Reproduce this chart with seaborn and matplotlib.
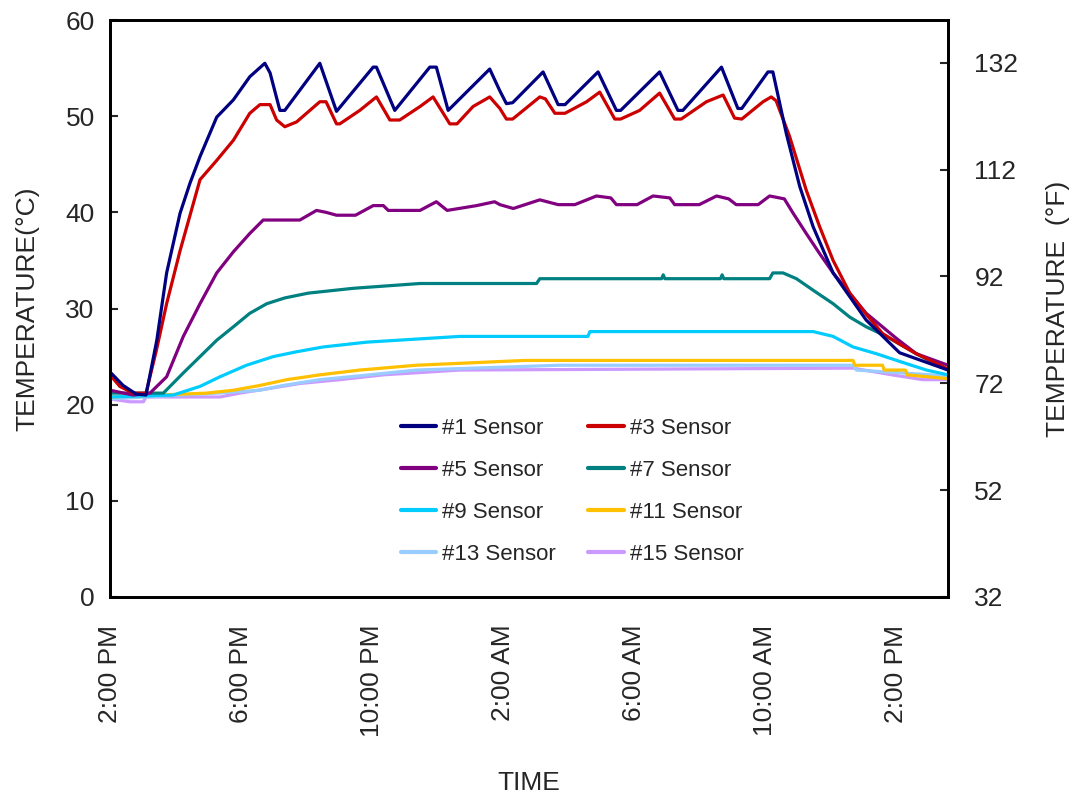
import matplotlib
matplotlib.use("Agg")
import matplotlib.pyplot as plt
import seaborn as sns
import pandas as pd
from matplotlib.lines import Line2D

# ---- data (hours after 2:00 PM, temperature in °C) ----
s1_t = [0.0, 0.4, 0.8, 1.1, 1.43, 1.73, 2.14, 2.44, 2.75, 3.26, 3.77, 4.27, 4.73, 4.89, 5.19, 5.34,
        6.41, 6.92, 8.04, 8.14, 8.70, 9.77, 9.97, 10.33, 11.6, 11.9, 12.11, 12.3, 13.23, 13.69, 13.9,
        14.91, 15.47, 15.6, 16.79, 17.35, 17.5, 18.68, 19.18, 19.3, 20.1, 20.25, 20.66, 21.07, 21.48,
        22.09, 23.1, 24.12, 25.6]
s1_v = [23.4, 22.0, 21.1, 21.0, 26.7, 33.7, 39.9, 43.0, 45.8, 49.9, 51.7, 54.1, 55.5, 54.5, 50.6, 50.6,
        55.5, 50.5, 55.1, 55.1, 50.6, 55.1, 55.1, 50.6, 54.9, 52.7, 51.3, 51.4, 54.6, 51.2, 51.2,
        54.6, 50.6, 50.6, 54.6, 50.6, 50.6, 55.1, 50.8, 50.8, 54.6, 54.6, 48.2, 42.7, 38.5,
        33.7, 28.8, 25.4, 23.6]

s3_t = [0.0, 0.3, 0.7, 1.1, 1.42, 1.73, 2.14, 2.75, 3.26, 3.77, 4.27, 4.58, 4.89, 5.09, 5.34, 5.70,
        6.41, 6.6, 6.92, 7.02, 7.63, 8.14, 8.55, 8.85, 9.47, 9.87, 10.38, 10.6, 11.09, 11.6, 11.91,
        12.11, 12.3, 13.13, 13.3, 13.59, 13.9, 14.56, 14.96, 15.42, 15.6, 16.18, 16.79, 17.25, 17.45,
        18.22, 18.73, 19.08, 19.3, 19.95, 20.2, 20.35, 20.76, 21.27, 21.68, 22.09, 22.6, 23.1, 23.6,
        24.12, 24.63, 25.6]
s3_v = [23.1, 21.9, 21.2, 21.2, 25.7, 30.5, 36.0, 43.4, 45.4, 47.5, 50.3, 51.2, 51.2, 49.6, 48.9, 49.4,
        51.5, 51.5, 49.2, 49.2, 50.6, 52.0, 49.6, 49.6, 51.0, 52.0, 49.2, 49.2, 51.0, 52.0, 50.8,
        49.7, 49.7, 52.0, 51.8, 50.3, 50.3, 51.5, 52.5, 49.7, 49.7, 50.6, 52.4, 49.7, 49.7,
        51.5, 52.2, 49.8, 49.7, 51.5, 52.0, 51.6, 47.9, 42.3, 38.5, 35.0, 31.6, 29.4, 27.4,
        26.3, 25.3, 23.7]

s5_t = [0.0, 0.71, 1.22, 1.73, 2.24, 2.75, 3.26, 3.77, 4.27, 4.68, 5.8, 6.31, 6.6, 6.92, 7.5, 8.04,
        8.35, 8.5, 9.47, 9.97, 10.3, 11.2, 11.75, 11.91, 12.32, 13.13, 13.69, 14.2, 14.86, 15.3,
        15.47, 16.1, 16.59, 17.1, 17.25, 18.0, 18.53, 18.9, 19.13, 19.8, 20.15, 20.6, 20.87,
        21.27, 21.68, 22.09, 23.1, 24.02, 24.63, 25.6]
s5_v = [21.5, 21.0, 21.2, 22.9, 27.1, 30.5, 33.7, 35.9, 37.8, 39.2, 39.2, 40.2, 40.0, 39.7, 39.7, 40.7,
        40.7, 40.2, 40.2, 41.1, 40.2, 40.7, 41.1, 40.8, 40.4, 41.3, 40.8, 40.8, 41.7, 41.5,
        40.8, 40.8, 41.7, 41.5, 40.8, 40.8, 41.7, 41.4, 40.8, 40.8, 41.7, 41.4, 39.9,
        37.8, 35.7, 33.7, 29.5, 26.9, 25.3, 24.1]

s7_t = [0.0, 1.63, 2.24, 2.75, 3.26, 3.77, 4.27, 4.79, 5.34, 6.06, 7.43, 9.47, 13.03, 13.13, 16.85,
        16.9, 16.95, 18.65, 18.7, 18.75, 20.15, 20.25, 20.56, 20.97, 21.48, 22.09, 22.6, 23.1, 23.72,
        24.63, 25.6]
s7_v = [21.2, 21.2, 23.3, 25.0, 26.7, 28.1, 29.5, 30.5, 31.1, 31.6, 32.1, 32.6, 32.6, 33.1, 33.1,
        33.5, 33.1, 33.1, 33.5, 33.1, 33.1, 33.7, 33.7, 33.1, 31.9, 30.5, 29.1, 28.1, 27.1,
        25.3, 23.6]

s9_t = [0.0, 1.93, 2.75, 3.36, 4.17, 4.99, 5.70, 6.51, 7.84, 10.69, 14.6, 14.66, 21.48, 22.09,
        22.7, 23.41, 24.12, 24.94, 25.6]
s9_v = [20.8, 21.0, 21.9, 22.9, 24.1, 25.0, 25.5, 26.0, 26.5, 27.1, 27.1, 27.6, 27.6, 27.1,
        26.0, 25.3, 24.5, 23.6, 23.1]

s11_t = [0.0, 2.95, 3.77, 4.58, 5.40, 6.41, 7.63, 9.36, 12.67, 22.7, 22.75, 23.6, 23.65, 24.3,
         24.35, 25.6]
s11_v = [20.8, 21.2, 21.5, 22.0, 22.6, 23.1, 23.6, 24.1, 24.6, 24.6, 24.1, 24.1, 23.6, 23.6,
         23.1, 22.7]

s13_t = [0.0, 3.26, 4.58, 5.29, 6.41, 7.63, 9.36, 13.74, 22.7, 22.8, 25.1, 25.6]
s13_v = [20.6, 21.2, 21.5, 22.0, 22.6, 23.0, 23.6, 24.1, 24.1, 23.6, 23.1, 22.9]

s15_t = [0.0, 0.61, 1.02, 1.1, 3.36, 3.97, 5.80, 7.02, 8.35, 10.69, 22.7, 23.89, 24.83, 25.6]
s15_v = [20.6, 20.3, 20.3, 20.8, 20.8, 21.2, 22.2, 22.6, 23.1, 23.6, 23.8, 23.1, 22.6, 22.6]

sensor_names = ["#1 Sensor", "#3 Sensor", "#5 Sensor", "#7 Sensor",
                "#9 Sensor", "#11 Sensor", "#13 Sensor", "#15 Sensor"]
sensor_colors = ["#000080", "#CC0000", "#800080", "#008080",
                 "#00CCFF", "#FFC000", "#99CCFF", "#CC99FF"]
series = [(s1_t, s1_v), (s3_t, s3_v), (s5_t, s5_v), (s7_t, s7_v),
          (s9_t, s9_v), (s11_t, s11_v), (s13_t, s13_v), (s15_t, s15_v)]

x_ticks = [0, 4, 8, 12, 16, 20, 24]
x_tick_labels = ["2:00 PM", "6:00 PM", "10:00 PM", "2:00 AM", "6:00 AM", "10:00 AM", "2:00 PM"]
y_ticks_c = [0, 10, 20, 30, 40, 50, 60]
y_ticks_f = [32, 52, 72, 92, 112, 132]

# ---- long-form table ----
rows = []
for name, (ts, vs) in zip(sensor_names, series):
    for t, v in zip(ts, vs):
        rows.append({"hour": t, "temp": v, "sensor": name})
df = pd.DataFrame(rows)

sns.set_style("white")
plt.rcParams["font.family"] = ["Liberation Sans", "DejaVu Sans"]

FS = 19
fig = plt.figure(figsize=(10.73, 7.94), dpi=100)
ax = fig.add_axes([110 / 1073, 1 - 597 / 794, 838 / 1073, 577 / 794])

palette = dict(zip(sensor_names, sensor_colors))
sns.lineplot(data=df, x="hour", y="temp", hue="sensor", hue_order=sensor_names,
             palette=palette, sort=False, estimator=None, linewidth=2.3, ax=ax, legend=False)
for i, line in enumerate(ax.get_lines()):
    line.set_zorder(10 - i)

ax.set_xlim(0, 25.6)
ax.set_ylim(0, 60)
ax.set_xticks(x_ticks)
ax.set_xticklabels(x_tick_labels, rotation=90, fontsize=FS)
ax.set_yticks(y_ticks_c)
ax.set_yticklabels([str(v) for v in y_ticks_c], fontsize=FS)
ax.tick_params(axis="y", direction="in", length=6, width=1.5, pad=11)
ax.tick_params(axis="x", direction="in", length=6, width=1.5, pad=20)
ax.set_xlabel("TIME", fontsize=FS, labelpad=24)
ax.set_ylabel("TEMPERATURE(°C)", fontsize=FS, labelpad=19)
for sp in ax.spines.values():
    sp.set_linewidth(2.0)
    sp.set_color("black")

ax2 = ax.twinx()
ax2.set_ylim(0 * 1.8 + 32, 60 * 1.8 + 32)
ax2.set_yticks(y_ticks_f)
ax2.set_yticklabels([str(v) for v in y_ticks_f], fontsize=FS)
ax2.tick_params(direction="in", length=6, width=1.5, pad=19)
ax2.set_ylabel("TEMPERATURE  (°F)", fontsize=FS, labelpad=20)
for sp in ax2.spines.values():
    sp.set_linewidth(2.0)
    sp.set_color("black")

# legend filled row-wise (two columns)
leg_order = [0, 2, 4, 6, 1, 3, 5, 7]
handles = [Line2D([0], [0], color=sensor_colors[i], lw=3) for i in leg_order]
labels = [sensor_names[i] for i in leg_order]
ax.legend(handles, labels, ncol=2, frameon=False, fontsize=16,
          loc="upper left", bbox_to_anchor=(0.323, 0.345),
          handlelength=1.6, handletextpad=0.27, columnspacing=1.45, labelspacing=0.95)

fig.savefig("out.png", dpi=100)
